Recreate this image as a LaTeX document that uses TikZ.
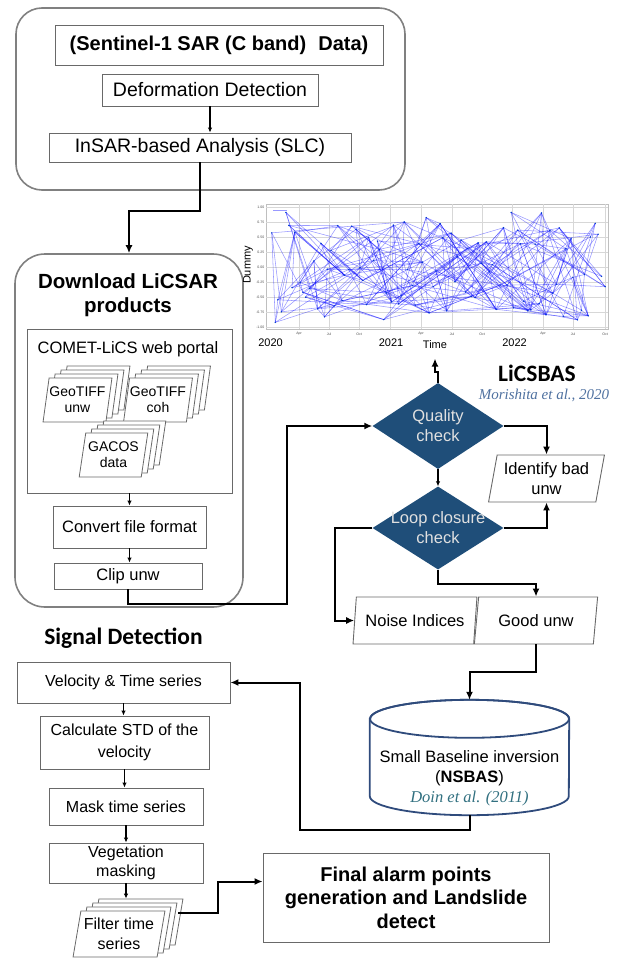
\documentclass[tikz,border=0pt]{standalone}
\usepackage{fontspec}
\setmainfont{Liberation Sans}
\newfontfamily\calibrifont{Carlito}
\newfontfamily\timesfont{Liberation Serif}
\usetikzlibrary{shapes.geometric,shadows,arrows.meta}
\definecolor{diamondblue}{RGB}{31,78,121}
\definecolor{dbblue}{RGB}{47,75,124}
\definecolor{citeblue}{RGB}{79,113,160}
\definecolor{citeteal}{RGB}{49,112,128}
\definecolor{boxgray}{RGB}{105,105,105}
\definecolor{groupgray}{RGB}{128,128,128}
\definecolor{gridgray}{RGB}{215,215,215}
\newcommand{\fsz}[2]{\fontsize{#1}{#2}\selectfont}

\begin{document}
\begin{tikzpicture}[x=1pt,y=-1pt,>={Latex[length=8pt,width=7pt]}]
			\tikzstyle{groupbox}=[draw=groupgray,line width=1.6pt,rounded corners=26pt,inner sep=0pt]
			\tikzstyle{procbox}=[draw=boxgray,line width=0.9pt,fill=white,inner sep=0pt,align=center,font=\fsz{16.5}{20}]
			\tikzstyle{topbox}=[procbox,font=\fsz{19.5}{23}]
			\tikzstyle{databox}=[trapezium,trapezium left angle=77,trapezium right angle=103,trapezium stretches=true,draw=boxgray,line width=0.9pt,fill=white,inner sep=0pt,align=center,font=\fsz{16.5}{20}]
			\tikzstyle{sheet}=[draw=boxgray,fill=white,line width=0.8pt]
			\tikzstyle{stackdoc}=[databox,line width=0.8pt,font=\fsz{14}{16},
				copy shadow={shadow xshift=18pt,shadow yshift=12pt,sheet},
				copy shadow={shadow xshift=12pt,shadow yshift=8pt,sheet},
				copy shadow={shadow xshift=6pt,shadow yshift=4pt,sheet}]
			\tikzstyle{decision}=[diamond,fill=diamondblue,inner sep=0pt,minimum width=131pt,minimum height=86pt]
			\tikzstyle{dectext}=[text=white!88!black,align=center,font=\fsz{16.5}{20}]
			\tikzstyle{conn}=[line width=2pt]
			\tikzstyle{link}=[line width=1.2pt,>={Latex[length=5pt,width=4.5pt]}]
			\tikzstyle{title}=[font=\bfseries\fsz{20.5}{24},align=center]
			\tikzstyle{headline}=[font=\calibrifont\bfseries\fsz{23.5}{26}]
			\tikzstyle{dbline}=[draw=dbblue,line width=1.8pt]
			\tikzstyle{gridline}=[draw=gridgray,line width=0.4pt]
			\tikzstyle{netedge}=[draw=blue,opacity=0.4,line width=0.55pt]
			\tikzstyle{ticklab}=[font=\fsz{3.5}{4},text=black!70,inner sep=0.5pt]
			\tikzstyle{axislab}=[font=\fsz{11}{13}]
			\useasboundingbox (0,0) rectangle (618,958);

			\node[groupbox,minimum width=389pt,minimum height=182pt](sentinelgroup) at (210.5,99){};
			\node[topbox,font=\bfseries\fsz{20}{24},minimum width=328pt,minimum height=40pt](sentinel) at (219,45){(Sentinel-1 SAR (C band)\hspace{0.6em}Data)};
			\node[topbox,minimum width=216pt,minimum height=32pt](deform) at (210,90){Deformation Detection};
			\node[topbox,minimum width=302pt,minimum height=29pt](insar) at (200,147.5){InSAR-based Analysis (SLC)};

			\node[groupbox,rounded corners=30pt,minimum width=228pt,minimum height=353pt](licsar) at (129,430.5){};
			\node[title](download) at (128,295){Download LiCSAR\\products};
			\node[procbox,minimum width=205pt,minimum height=164pt](comet) at (129.5,411){};
			\node[font=\fsz{16.5}{20}](cometlab) at (128,349){COMET-LiCS web portal};
			\node[stackdoc,minimum width=69pt,minimum height=44pt](unw) at (77.5,400){GeoTIFF\\unw};
			\node[stackdoc,minimum width=69pt,minimum height=44pt](coh) at (158,400){GeoTIFF\\coh};
			\node[stackdoc,minimum width=69pt,minimum height=44pt](gacos) at (113.5,455){GACOS\\data};
			\node[procbox,minimum width=153pt,minimum height=42pt](convert) at (129.5,527){Convert file format};
			\node[procbox,minimum width=148pt,minimum height=26pt](clip) at (128,576){Clip unw};

			\draw[gridline,draw=black!25] (266,204) rectangle (608,329);
			\foreach \gx in {299,329,359,390,421,452,482,512,543,573,605}
				\draw[gridline] (\gx,204) -- (\gx,329);
			\foreach \gy/\lab in {1/1.00,0.75/0.75,0.5/0.50,0.25/0.25,0/0.00,-0.25/-0.25,-0.5/-0.50,-0.75/-0.75,-1/-1.00}{
				\draw[gridline] (266,267-60*\gy) -- (608,267-60*\gy);
				\node[ticklab,anchor=east](ytick) at (265,267-60*\gy){\lab};
			}
			\foreach \gx/\lab in {299/Apr,329/Jul,359/Oct,421/Apr,452/Jul,482/Oct,543/Apr,573/Jul,605/Oct}
				\node[ticklab](xtick) at (\gx,334){\lab};
			\pgfmathsetseed{4217}
			\foreach \i in {1,...,96}{
				\pgfmathsetmacro\px{270+(\i-1)*3.52+rnd*2}
				\pgfmathsetmacro\py{267-57*rand}
				\coordinate (p\i) at (\px,\py);
			}
			\foreach \i in {1,...,96}{
				\foreach \k in {1,2,3,4}{
					\pgfmathtruncatemacro\j{\i+random(1,26)}
					\ifnum\j>96\else\draw[netedge] (p\i) -- (p\j);\fi
				}
			}
			\foreach \i in {1,...,96}
				\fill[blue!70!cyan!80!black] (p\i) circle (0.8pt);
			\draw[netedge] (273,210) -- (287,210);
			\node[axislab,rotate=90](dummylab) at (248,265){Dummy};
			\node[axislab](y2020) at (270.5,343){2020};
			\node[axislab](y2021) at (391,343){2021};
			\node[axislab](timelab) at (435,345){Time};
			\node[axislab](y2022) at (514.5,343){2022};

			\node[headline,inner sep=1pt](licsbas) at (537,373){LiCSBAS};
			\node[font=\timesfont\itshape\fsz{15}{18},text=citeblue,inner sep=1pt](morishita) at (544,395){Morishita et al., 2020};
			\node[decision](quality) at (438,426){};
			\node[dectext] at (quality){Quality\\check};
			\node[decision,minimum height=83pt](loop) at (438,528){};
			\node[dectext] at (loop){Loop closure\\check};
			\node[databox,minimum width=117pt,minimum height=47pt](identify) at (546.5,478.5){Identify bad\\unw};
			\node[databox,minimum width=124pt,minimum height=47pt](noise) at (415,620.5){Noise Indices};
			\node[databox,minimum width=124pt,minimum height=47pt](good) at (536,620.5){Good unw};

			\node[inner sep=0pt,minimum width=199pt,minimum height=115pt](db) at (469.5,757.5){};
			\draw[dbline,fill=white] ([yshift=-19pt]db.north west) -- ([yshift=19pt]db.south west)
				arc[start angle=180,end angle=360,x radius=99.5pt,y radius=19pt] -- ([yshift=-19pt]db.north east)
				arc[start angle=0,end angle=180,x radius=99.5pt,y radius=19pt] -- cycle;
			\draw[dbline] ([yshift=-19pt]db.north) ellipse[x radius=99.5pt,y radius=19pt];
			\node[font=\fsz{16.5}{20},align=center](dbtext) at (469.5,778){Small Baseline inversion\\(\textbf{NSBAS})\\{\timesfont\itshape\color{citeteal}Doin et al. (2011)}};

			\node[headline](signal) at (123.5,638){Signal Detection};
			\node[procbox,font=\fsz{16}{20},minimum width=213pt,minimum height=41pt](velocity) at (123.5,682.5){Velocity \& Time series};
			\node[procbox,font=\fsz{16}{21.5},minimum width=169pt,minimum height=53pt](calc) at (124.5,742.5){Calculate STD of the\\velocity};
			\node[procbox,font=\fsz{16}{20},minimum width=154pt,minimum height=37pt](mask) at (126,806.5){Mask time series};
			\node[procbox,font=\fsz{16}{19.5},minimum width=154pt,minimum height=40pt](veg) at (126,863){Vegetation\\masking};
			\node[stackdoc,font=\fsz{16}{19.5},minimum width=92pt,minimum height=46pt](filter) at (119,934){Filter time\\series};
			\node[procbox,font=\bfseries\fsz{20}{23.5},minimum width=286pt,minimum height=89pt](final) at (406,897.5){Final alarm points\\generation and Landslide\\detect};

			\draw[link,->] (deform.south) -- (deform.south |- insar.north);
			\draw[conn,->] (insar.south) -- ++(0,49) -| (licsar.north);
			\draw[link,->] (comet.south) -- (comet.south |- convert.north);
			\draw[link,->] (convert.south) -- (convert.south |- clip.north);
			\draw[conn,->] (clip.south) -- ++(0,15) -| ([xshift=-85pt]quality.west) -- (quality.west);
			\draw[conn,->] (quality.north) -- ++(0,-11) -| ([yshift=-6pt]timelab.south);
			\draw[link,->] (quality.south) -- (loop.north);
			\draw[conn,->] (quality.east) -| (identify.north);
			\draw[conn,->] (loop.east) -| (identify.south);
			\draw[conn,->] (loop.west) -- ++(-37,0) |- (noise.west);
			\draw[conn,->] (loop.south) -- ++(0,14) -| (good.north);
			\draw[conn,->] (good.south) -- ++(0,28) -| (db.north);
			\draw[conn,->] (db.south) -- ++(0,15) -| ([xshift=70pt]velocity.east) -- (velocity.east);
			\draw[link,->] (velocity.south) -- (velocity.south |- calc.north);
			\draw[link,->] (calc.south) -- (calc.south |- mask.north);
			\draw[link,->] (mask.south) -- (mask.south |- veg.north);
			\coordinate (filtertop) at ([yshift=12pt]filter.north);
			\draw[link,->] (veg.south) -- (veg.south |- filtertop);
			\coordinate (filterout) at ([xshift=17pt,yshift=21pt]filter.east);
			\draw[conn,->] (filterout) -- ++(40,0) |- ([yshift=16pt]final.west);
\end{tikzpicture}
\end{document}
